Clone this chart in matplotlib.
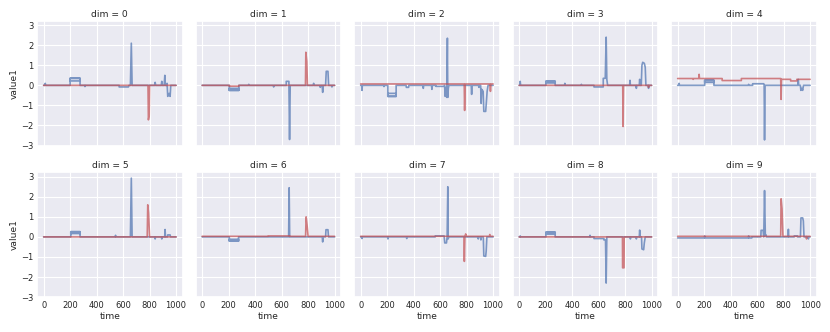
import matplotlib
matplotlib.use("Agg")
import matplotlib.pyplot as plt
import seaborn as sns

# (time, value) breakpoints, one blue + one red series per dim
blue0 = [(0, 0), (8, 0), (12, 0.1), (16, 0), (200, 0), (200, 0.35), (275, 0.35), (275, 0.22), (200, 0.22),
         (200, 0.35), (275, 0.35), (275, 0),
         (310, 0), (312, -0.06), (315, 0), (570, 0), (570, -0.08), (640, -0.08), (645, 0), (655, 0), (662, 2.1),
         (668, 0), (838, 0), (842, 0.15), (846, 0), (888, 0), (892, 0.2), (896, 0), (910, 0), (915, 0.5), (919, 0),
         (928, 0), (932, 0.1), (937, -0.55), (947, -0.4), (955, -0.55), (960, 0), (1000, 0)]
red0 = [(0, 0), (788, 0), (791, -1.72), (797, -1.5), (800, 0), (1000, 0)]

blue1 = [(0, 0), (205, 0), (205, -0.25), (277, -0.25), (277, -0.15), (205, -0.15), (205, -0.25), (277, -0.25),
         (277, 0), (348, 0), (352, 0.05), (356, 0), (536, 0),
         (540, -0.08), (544, 0), (635, 0), (635, 0.2), (655, 0.2), (660, -2.7), (665, 0), (838, 0), (842, 0.1),
         (846, 0), (888, 0), (892, -0.1), (896, 0), (906, 0), (910, -0.35), (914, 0), (932, 0), (937, 0.7),
         (950, 0.7), (955, 0), (976, 0), (980, -0.08), (984, 0), (1000, 0)]
red1 = [(0, 0), (205, 0), (205, -0.04), (277, -0.04), (277, 0), (780, 0), (783, 1.65), (790, 1.2), (795, 0),
        (1000, 0)]

blue2 = [(0, 0), (8, 0), (10, -0.25), (13, 0), (173, 0), (176, -0.06), (179, 0), (205, 0), (205, -0.55),
         (268, -0.55), (268, -0.4), (205, -0.4), (205, -0.55), (268, -0.55),
         (268, 0), (343, 0), (345, -0.1), (362, -0.1), (364, 0), (470, 0), (473, -0.15), (476, 0),
         (535, 0), (538, -0.2), (541, 0), (568, 0), (568, -0.05), (630, -0.05), (634, 0), (638, -0.55),
         (645, -0.1), (650, -0.6), (655, 2.35), (658, -0.6), (662, -0.15), (666, 0), (835, 0), (838, -0.45),
         (841, 0), (890, 0), (893, -0.1), (896, 0), (906, 0), (910, -0.9), (914, -0.2), (925, -0.3),
         (930, -1.3), (944, -1.3), (948, -0.95), (955, -0.3), (962, 0), (1000, 0)]
red2 = [(0, 0.07), (782, 0.07), (785, -1.25), (789, 0.07), (976, 0.07), (980, -0.3), (984, 0.07), (1000, 0.07)]

blue3 = [(0, 0), (5, 0), (8, 0.2), (11, 0), (202, 0), (202, 0.2), (272, 0.2), (272, 0.12), (202, 0.12),
         (202, 0.2), (272, 0.2), (272, 0), (342, 0), (345, 0.1),
         (348, 0), (467, 0), (470, 0.05), (473, 0), (565, 0), (565, -0.08), (635, -0.08), (635, 0.35),
         (650, 0.35), (657, 2.4), (662, 0.3), (668, 0), (834, 0), (837, 0.25), (840, 0), (882, 0), (885, -0.15),
         (888, 0), (907, 0), (910, 0.3), (913, 0), (922, 0), (927, 1.0), (933, 1.15), (945, 1.1), (952, 0.9),
         (957, 0), (974, 0), (977, -0.15), (980, 0), (1000, 0)]
red3 = [(0, 0), (782, 0), (785, -2.05), (788, 0), (974, 0), (977, -0.1), (980, 0), (1000, 0)]

blue4 = [(0, 0), (8, 0), (11, 0.1), (14, 0), (204, 0), (204, 0.25), (274, 0.25), (274, 0.15), (204, 0.15),
         (204, 0.25), (274, 0.25), (274, 0), (533, 0),
         (536, 0.05), (539, 0), (566, 0), (566, 0.08), (650, 0.08), (653, 0), (656, -2.72), (660, 0), (908, 0),
         (911, 0.3), (914, 0), (927, 0), (930, -0.25), (937, -0.15), (944, -0.25), (950, 0), (1000, 0)]
red4 = [(0, 0.34), (114, 0.34), (117, 0.3), (120, 0.34), (159, 0.34), (162, 0.55), (165, 0.34), (336, 0.34),
        (336, 0.24), (481, 0.24), (481, 0.34), (778, 0.34), (781, -0.7), (784, 0.3), (853, 0.3), (853, 0.22),
        (900, 0.22), (900, 0.3), (1000, 0.3)]

blue5 = [(0, 0), (205, 0), (205, 0.26), (275, 0.26), (275, 0.17), (205, 0.17), (205, 0.26), (275, 0.26),
         (275, 0), (540, 0), (543, 0.08), (546, 0), (655, 0),
         (662, 2.93), (668, 0), (839, 0), (842, -0.1), (845, 0), (889, 0), (892, -0.1), (895, 0), (914, 0),
         (917, 0.37), (920, 0), (935, 0), (937, 0.1), (955, 0.1), (958, 0), (1000, 0)]
red5 = [(0, 0), (782, 0), (786, 1.6), (792, 1.2), (800, 0), (1000, 0)]

blue6 = [(0, 0), (205, 0), (205, -0.2), (275, -0.2), (275, -0.12), (205, -0.12), (205, -0.2), (275, -0.2),
         (275, 0), (653, 0), (657, 2.45), (661, 0), (907, 0),
         (910, -0.25), (913, 0), (932, 0), (935, 0.36), (950, 0.36), (954, 0), (1000, 0)]
red6 = [(0, 0.03), (500, 0.03), (500, 0.05), (660, 0.05), (660, 0.03), (781, 0.03), (785, 1.0), (792, 0.6),
        (800, 0.03), (1000, 0.03)]

blue7 = [(0, 0), (7, 0), (10, -0.08), (13, 0), (203, 0), (206, -0.1), (209, 0), (345, 0), (348, -0.08),
         (351, 0), (563, 0), (563, 0.05), (630, 0.05), (635, -0.3), (648, -0.3), (653, 0), (658, 2.5),
         (661, -0.1), (665, 0), (885, 0), (888, -0.1), (891, 0), (905, 0), (908, -0.15), (911, 0), (926, 0),
         (930, -0.95), (944, -0.97), (948, -0.7), (953, 0), (1000, 0)]
red7 = [(0, 0.03), (780, 0.03), (783, -1.22), (787, 0.03), (790, 0.03), (793, 0.15), (796, 0.03), (972, 0.03),
        (975, 0.12), (978, 0.03), (1000, 0.03)]

blue8 = [(0, 0), (5, 0), (8, 0.05), (11, 0), (202, 0), (202, 0.23), (272, 0.23), (272, 0.14), (202, 0.14),
         (202, 0.23), (272, 0.23), (272, 0), (532, 0),
         (535, 0.08), (538, 0), (565, 0), (565, -0.08), (640, -0.08), (640, -0.15), (652, -0.15), (657, -2.3),
         (662, 0), (837, 0), (840, -0.1), (843, 0), (882, 0), (885, -0.1), (888, 0), (907, 0), (910, 0.34),
         (913, 0), (924, 0), (927, -0.6), (940, -0.64), (945, -0.3), (952, 0), (1000, 0)]
red8 = [(0, 0), (780, 0), (781, -1.54), (792, -1.54), (793, 0), (1000, 0)]

blue9 = [(0, -0.05), (201, -0.05), (204, 0.05), (207, -0.05), (533, -0.05), (536, 0.05), (539, -0.05),
         (560, -0.05), (560, 0), (628, 0), (630, 0.33), (645, 0.33), (650, 0), (656, 2.31), (662, 0.1),
         (667, 0.1), (670, 0), (833, 0), (836, 0.38), (839, 0), (880, 0), (880, 0.05), (905, 0.05), (905, 0),
         (927, 0), (931, 0.95), (944, 0.95), (949, 0.8), (954, 0), (984, 0), (987, -0.1), (990, 0), (1000, 0)]
red9 = [(0, 0.03), (778, 0.03), (781, 1.9), (788, 1.4), (795, 0.03), (970, 0.03), (973, -0.1), (976, 0.03),
        (1000, 0.03)]

blue_series = [blue0, blue1, blue2, blue3, blue4, blue5, blue6, blue7, blue8, blue9]
red_series = [red0, red1, red2, red3, red4, red5, red6, red7, red8, red9]
xticks = [0, 200, 400, 600, 800, 1000]
yticks = [-3, -2, -1, 0, 1, 2, 3]

sns.set_theme(style="darkgrid")
pal = sns.color_palette("deep")

fig, axes = plt.subplots(2, 5, figsize=(8.3, 3.32), dpi=100, sharex=True, sharey=True)
fig.subplots_adjust(left=0.0446, right=0.984, top=0.937, bottom=0.105, wspace=0.088, hspace=0.216)

for i, ax in enumerate(axes.flat):
    bt, bv = zip(*blue_series[i])
    rt, rv = zip(*red_series[i])
    ax.plot(bt, bv, color=pal[0], lw=1.2, alpha=0.7)
    ax.plot(rt, rv, color=pal[3], lw=1.2, alpha=0.7)
    ax.set_title(f"dim = {i}", fontsize=6.6, pad=3)
    ax.set_xticks(xticks)
    ax.set_yticks(yticks)
    ax.tick_params(labelsize=6.0, pad=2.5, length=0)
    ax.grid(color="white", linewidth=0.8)
    if i % 5 == 0:
        ax.set_ylabel("value1", fontsize=6.6, labelpad=2)
    if i >= 5:
        ax.set_xlabel("time", fontsize=6.6, labelpad=1.5)

fig.savefig("out.png", dpi=100)
